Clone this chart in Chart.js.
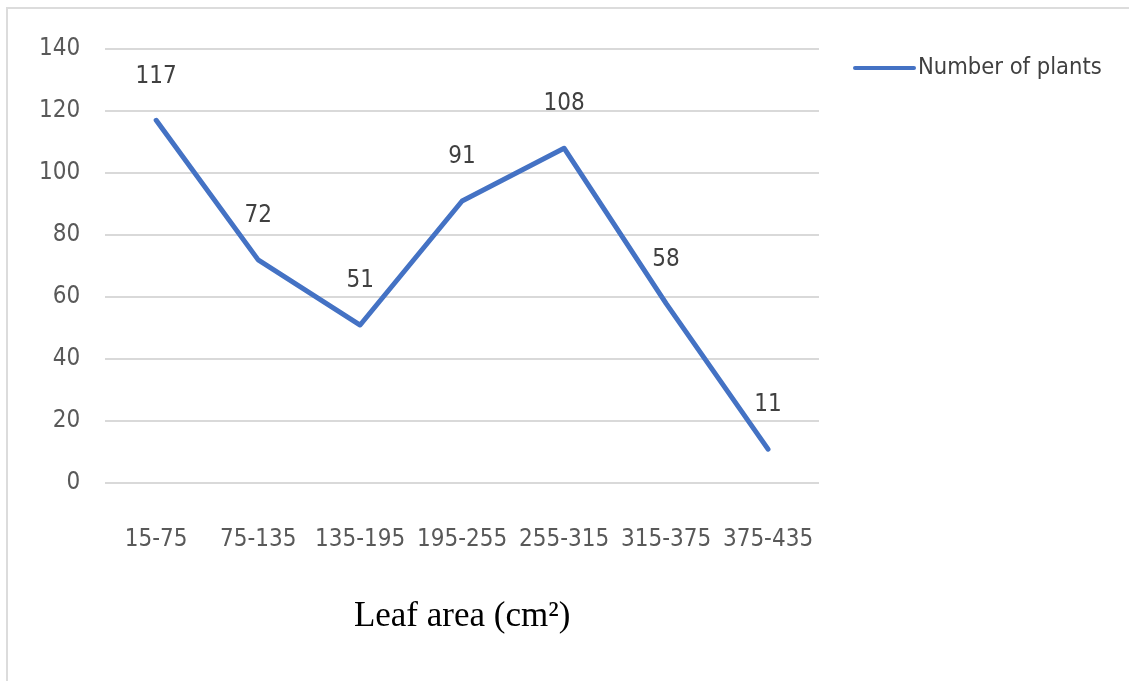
<!DOCTYPE html>
<html>
<head>
<meta charset="utf-8">
<script src="https://cdn.jsdelivr.net/npm/chart.js@4/dist/chart.umd.min.js"></script>
<style>
  html, body { margin: 0; padding: 0; background: #fff; }
  #wrap { position: relative; width: 1129px; height: 681px; }
  #frame { position: absolute; left: 6px; top: 7px; right: 0; bottom: 0; border-top: 2px solid #dcdcdc; border-left: 2px solid #dcdcdc; pointer-events: none; }
  canvas { position: absolute; left: 0; top: 0; }
</style>
</head>
<body>
<div id="wrap">
  <canvas id="c" width="1129" height="681"></canvas>
  <div id="frame"></div>
</div>
<script>
const categories = ['15-75', '75-135', '135-195', '195-255', '255-315', '315-375', '375-435'];
const plantCounts = [117, 72, 51, 91, 108, 58, 11];
const seriesName = 'Number of plants';
const axisTitle = 'Leaf area (cm\u00B2)';
const yTicks = [0, 20, 40, 60, 80, 100, 120, 140];

const NARROW = "'Liberation Sans Narrow', 'DejaVu Sans Condensed', 'Arial Narrow', sans-serif";
const LINE_COLOR = '#4472C4';

const valueLabels = {
  id: 'valueLabels',
  afterDatasetsDraw(chart) {
    const ctx = chart.ctx;
    const meta = chart.getDatasetMeta(0);
    ctx.save();
    ctx.font = '24px ' + NARROW;
    ctx.fillStyle = '#404040';
    ctx.textAlign = 'center';
    ctx.textBaseline = 'middle';
    meta.data.forEach((pt, i) => {
      ctx.fillText(String(chart.data.datasets[0].data[i]), pt.x, pt.y - 44);
    });
    ctx.restore();
  }
};

const sideLegend = {
  id: 'sideLegend',
  afterDraw(chart) {
    const ctx = chart.ctx;
    const ds = chart.data.datasets[0];
    const x0 = chart.chartArea.right + 36;
    const y0 = chart.chartArea.top + 19;
    ctx.save();
    ctx.strokeStyle = ds.borderColor;
    ctx.lineWidth = 4;
    ctx.lineCap = 'round';
    ctx.beginPath();
    ctx.moveTo(x0, y0);
    ctx.lineTo(x0 + 59, y0);
    ctx.stroke();
    ctx.font = '23.5px ' + NARROW;
    ctx.fillStyle = '#404040';
    ctx.textAlign = 'left';
    ctx.textBaseline = 'middle';
    ctx.fillText(ds.label, x0 + 63, y0);
    ctx.restore();
  }
};

new Chart(document.getElementById('c'), {
  type: 'line',
  data: {
    labels: categories,
    datasets: [{
      label: seriesName,
      data: plantCounts,
      borderColor: LINE_COLOR,
      backgroundColor: LINE_COLOR,
      borderWidth: 5,
      borderCapStyle: 'round',
      borderJoinStyle: 'round',
      pointRadius: 0,
      tension: 0,
      fill: false
    }]
  },
  options: {
    responsive: false,
    animation: false,
    devicePixelRatio: 1,
    layout: { padding: { left: 14, right: 310, top: 49, bottom: 43 } },
    plugins: {
      legend: { display: false },
      tooltip: { enabled: false }
    },
    scales: {
      x: {
        offset: true,
        grid: { display: false, drawTicks: false },
        border: { display: false },
        ticks: {
          padding: 42,
          color: '#595959',
          font: { family: NARROW, size: 24 },
          maxRotation: 0
        },
        title: {
          display: true,
          text: axisTitle,
          color: '#000000',
          font: { family: "'Liberation Serif', 'Times New Roman', serif", size: 35 },
          padding: { top: 0, bottom: 0 }
        }
      },
      y: {
        min: 0,
        max: 140,
        afterBuildTicks(scale) { scale.ticks = yTicks.map(v => ({ value: v })); },
        grid: { color: '#d9d9d9', lineWidth: 2, drawTicks: false },
        border: { display: false },
        ticks: {
          padding: 25,
          color: '#595959',
          font: { family: NARROW, size: 24 }
        }
      }
    }
  },
  plugins: [valueLabels, sideLegend]
});
</script>
</body>
</html>
